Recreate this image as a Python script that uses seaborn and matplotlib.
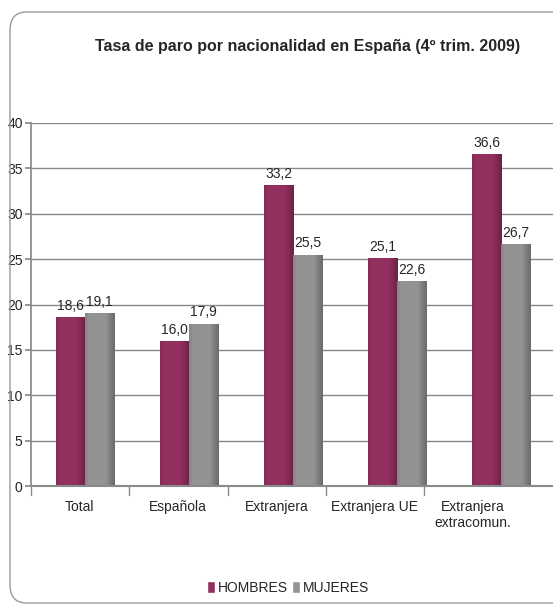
import numpy as np
import pandas as pd
import matplotlib
matplotlib.use('Agg')
import matplotlib.pyplot as plt
from matplotlib.patches import FancyBboxPatch, Patch
from matplotlib.colors import LinearSegmentedColormap, to_rgb
import seaborn as sns

categorias = ["Total", "Española", "Extranjera", "Extranjera UE", "Extranjera\nextracomun."]
hombres = [18.6, 16.0, 33.2, 25.1, 36.6]
mujeres = [19.1, 17.9, 25.5, 22.6, 26.7]
series = ["HOMBRES", "MUJERES"]
colores = ["#93305f", "#939393"]

df = pd.DataFrame({
    "categoria": categorias * 2,
    "serie": [series[0]] * len(categorias) + [series[1]] * len(categorias),
    "valor": hombres + mujeres,
})

sns.set_theme(style="white")
plt.rcParams['font.family'] = ['Liberation Sans Narrow', 'Liberation Sans', 'DejaVu Sans']

fig = plt.figure(figsize=(5.53, 6.13), dpi=100)
ax = fig.add_axes([31 / 553, 1 - 486 / 613, 1 - 31 / 553, (486 - 123) / 613])

sns.barplot(data=df, x="categoria", y="valor", hue="serie", palette=colores,
            width=0.56, ax=ax, legend=False, saturation=1)


def sombrear(color):
    r, g, b = to_rgb(color)
    borde_izq = tuple(c * 0.9 for c in (r, g, b))
    oscuro = tuple(c * 0.72 for c in (r, g, b))
    return LinearSegmentedColormap.from_list(
        "g", [(0, borde_izq), (0.12, color), (0.7, color), (1, oscuro)])


for cont, col in zip(ax.containers, colores):
    cmap = sombrear(col)
    for bar in cont:
        x0, w, h = bar.get_x(), bar.get_width(), bar.get_height()
        img = ax.imshow(np.linspace(0, 1, 64).reshape(1, -1), cmap=cmap, aspect="auto",
                        extent=[x0, x0 + w, 0, h], zorder=bar.get_zorder() + 0.1)
        img.set_clip_path(bar)
        bar.set_edgecolor("none")
    ax.bar_label(cont, labels=[f"{b.get_height():.1f}".replace(".", ",") for b in cont],
                 padding=3, fontsize=10)

ax.set_xlim(-0.52, 4.5)
ax.set_ylim(0, 40)
ax.set_yticks(range(0, 41, 5))
ax.yaxis.grid(True, color="#8a8a8a", linewidth=1)
ax.set_axisbelow(True)
ax.set_xlabel("")
ax.set_ylabel("")
paso = 0.945
ax.set_xticks(np.arange(len(categorias)) * paso - 0.05)
ax.set_xticklabels(categorias)
ax.tick_params(axis="y", labelsize=10, length=4, color="#8a8a8a", left=True, pad=2)
ax.tick_params(axis="x", labelsize=10, length=0, pad=10)
for s in ["top", "right"]:
    ax.spines[s].set_visible(False)
ax.spines["left"].set_color("#8a8a8a")
ax.spines["bottom"].set_color("#8a8a8a")
ax.spines["bottom"].set_linewidth(1.5)

# separadores de categoria
for k in range(len(categorias)):
    xb = -0.52 + k * paso
    ax.plot([xb, xb], [0, -0.025], transform=ax.get_xaxis_transform(),
            color="#8a8a8a", lw=1, clip_on=False)

fig.text(308 / 553, 1 - 47 / 613, "Tasa de paro por nacionalidad en España (4º trim. 2009)",
         ha="center", va="center", fontsize=11.5, fontweight="bold")

handles = [Patch(facecolor=c, label=s) for c, s in zip(colores, series)]
fig.legend(handles=handles, loc="center", bbox_to_anchor=(288 / 553, 1 - 588 / 613),
           ncol=2, frameon=False, fontsize=10, handlelength=0.6, handleheight=0.9,
           handletextpad=0.2, columnspacing=0.3)

borde = FancyBboxPatch((10 / 553, 1 - 603 / 613), 1.1, (603 - 12) / 613,
                       boxstyle="round,pad=0,rounding_size=0.03",
                       transform=fig.transFigure, facecolor="none",
                       edgecolor="#9a9a9a", linewidth=1, clip_on=False)
fig.patches.append(borde)

fig.savefig("out.png", dpi=100)
